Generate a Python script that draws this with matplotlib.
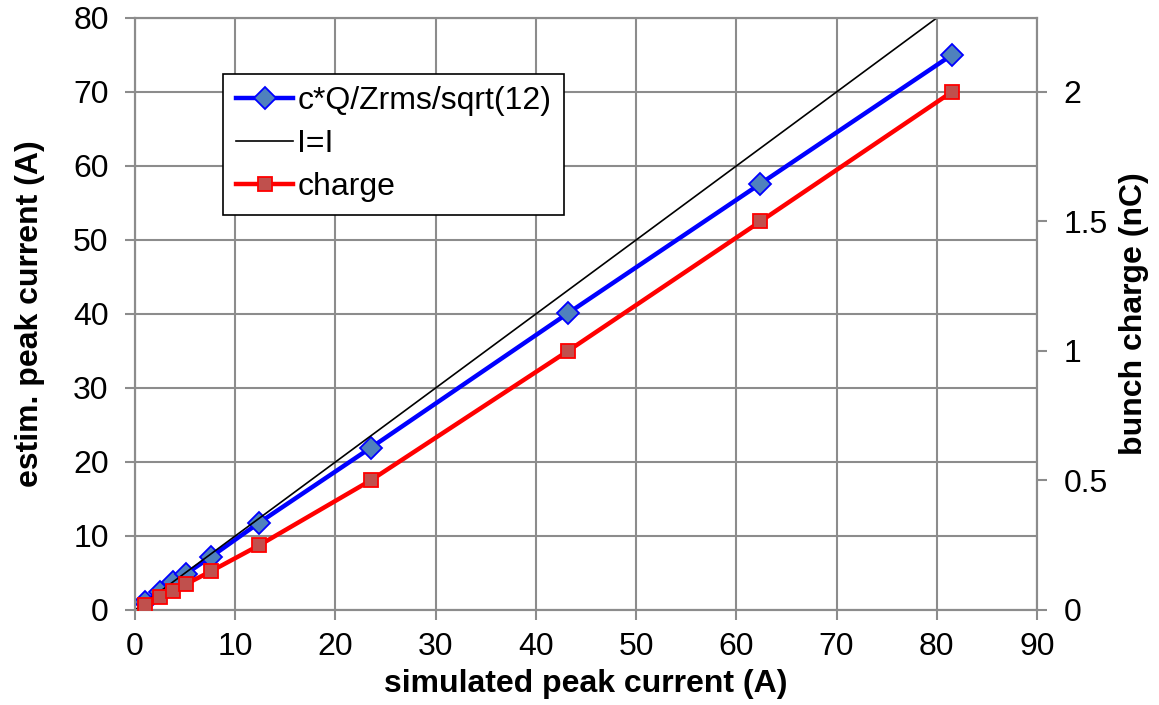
import numpy as np
import matplotlib
matplotlib.use('Agg')
import matplotlib.pyplot as plt

plt.rcParams['font.family'] = ['Liberation Sans', 'DejaVu Sans']

# simulated peak current (A)
sim_current = [1.0, 2.5, 3.8, 5.1, 7.6, 12.4, 23.5, 43.2, 62.4, 81.5]
# estimated peak current c*Q/Zrms/sqrt(12) (A)
est_current = [1.1, 2.4, 3.8, 4.9, 7.2, 11.8, 21.9, 40.1, 57.6, 75.0]
# bunch charge (nC)
charge = [0.02, 0.05, 0.075, 0.1, 0.15, 0.25, 0.5, 1.0, 1.5, 2.0]
# identity line I=I
ident_x = [0, 80]
ident_y = [0, 80]

grid_col = '#8c8c8c'
fs = 23

fig = plt.figure(figsize=(11.59, 7.05), dpi=100)
ax = fig.add_axes([0.1165, 0.1348, 0.7782, 0.8397])
ax2 = ax.twinx()

l1, = ax.plot(sim_current, est_current, color='#0000ff', lw=3.2, marker='D', ms=11.5,
              mfc='#4f81bd', mec='#0000ff', mew=1.3, label='c*Q/Zrms/sqrt(12)', zorder=3)
l2, = ax.plot(ident_x, ident_y, color='black', lw=1.2, label='I=I', zorder=4)
l3, = ax2.plot(sim_current, charge, color='#ff0000', lw=3.2, marker='s', ms=10.5,
               mfc='#c0504d', mec='#ff0000', mew=1.3, label='charge', zorder=3)

ax.set_xlim(0, 90)
ax.set_ylim(0, 80)
ax2.set_ylim(0, 80 / 35)
ax.set_xticks(np.arange(0, 91, 10))
ax.set_yticks(np.arange(0, 81, 10))
ax2.set_yticks([0, 0.5, 1, 1.5, 2])
ax2.set_yticklabels(['0', '0.5', '1', '1.5', '2'])

ax.grid(True, color=grid_col, lw=1.5)
ax.set_axisbelow(True)
for a in (ax, ax2):
    for s in a.spines.values():
        s.set_color(grid_col)
        s.set_linewidth(1.5)
    a.tick_params(direction='out', length=7, width=1.5, color=grid_col,
                  labelsize=fs, pad=12)
ax.tick_params(axis='x', pad=9)

ax.set_xlabel('simulated peak current (A)', fontsize=fs, fontweight='bold', labelpad=5)
ax.set_ylabel('estim. peak current (A)', fontsize=fs, fontweight='bold', labelpad=20)
ax2.set_ylabel('bunch charge (nC)', fontsize=fs, fontweight='bold', labelpad=8)

leg = ax2.legend([l1, l2, l3], [l1.get_label(), l2.get_label(), l3.get_label()],
                 loc='upper left', bbox_to_anchor=(0.0976, 0.906), borderaxespad=0,
                 fontsize=fs, fancybox=False, framealpha=1, edgecolor='black',
                 handlelength=1.8, handletextpad=0.13, labelspacing=0.4,
                 borderpad=0.4)
leg.get_frame().set_linewidth(1.2)

fig.savefig('out.png', dpi=100)
